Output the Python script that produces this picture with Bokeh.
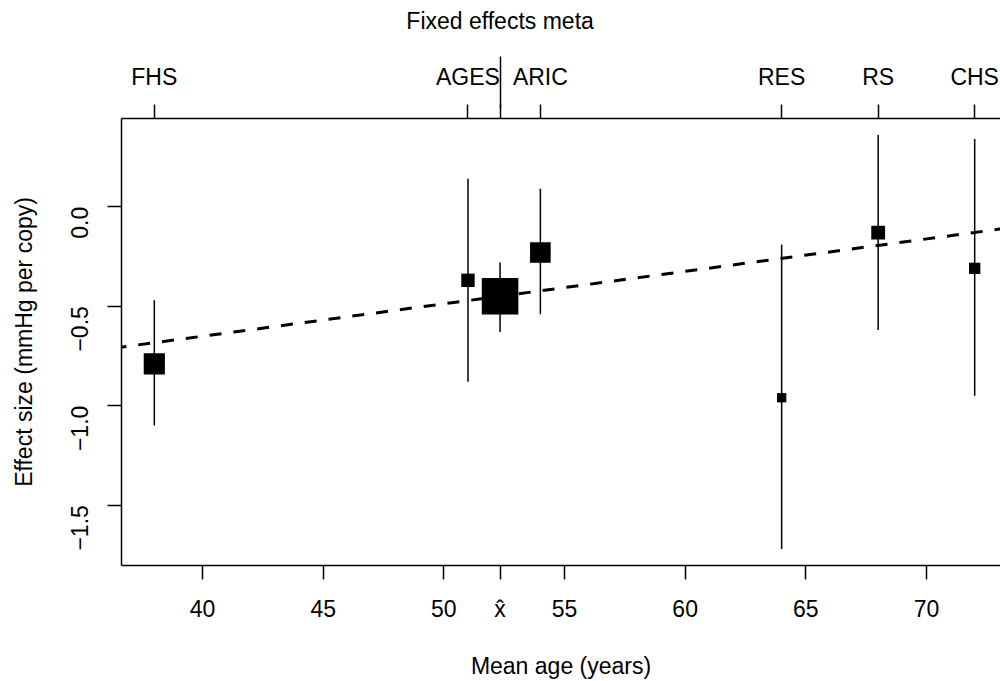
import math
from bokeh.plotting import figure
from bokeh.models import (Range1d, LinearAxis, FixedTicker, CustomJSTickFormatter,
                          Slope, ColumnDataSource)
from bokeh.embed import file_html
from bokeh.resources import INLINE

# ---------------- data ----------------
studies = ["FHS", "AGES", "ARIC", "RES", "RS", "CHS"]
mean_age = [38, 51, 54, 64, 68, 72]
effect = [-0.79, -0.37, -0.23, -0.96, -0.13, -0.31]
ci_low = [-1.10, -0.88, -0.54, -1.72, -0.62, -0.95]
ci_high = [-0.47, 0.14, 0.09, -0.19, 0.36, 0.34]
weight = [40, 16, 38, 7.7, 17, 11.4]

meta_label = "Fixed effects meta"
meta_age = 52.33
meta_effect = -0.45
meta_low = -0.63
meta_high = -0.28
meta_weight = 119

reg_intercept = -1.303
reg_slope = 0.0163

x_ticks = [40, 45, 50, 55, 60, 65, 70]
y_ticks = [0.0, -0.5, -1.0, -1.5]
meta_tick_label = "x\u0302"
x_title = "Mean age (years)"
y_title = "Effect size (mmHg per copy)"

# ---------------- styling ----------------
FONT = "Liberation Sans"
FS = "23px"
LW = 1.5

all_lo = min(ci_low + [meta_low])
all_hi = max(ci_high + [meta_high])
ypad = 0.04 * (all_hi - all_lo)
y_range = Range1d(all_lo - ypad, all_hi + ypad)
xspan = max(mean_age) - min(mean_age)
x_range = Range1d(min(mean_age) - 0.04 * xspan, 73.07)

p = figure(width=1000, height=681, x_range=x_range, y_range=y_range,
           output_backend="svg", toolbar_location=None,
           min_border_left=121, min_border_right=0,
           min_border_top=118, min_border_bottom=116)
p.outline_line_color = None
p.grid.grid_line_color = None
p.background_fill_color = "white"
p.border_fill_color = "white"


def style_axis(ax):
    ax.axis_line_color = "black"
    ax.axis_line_width = LW
    ax.major_tick_line_color = "black"
    ax.major_tick_line_width = LW
    ax.major_tick_out = 14
    ax.major_tick_in = 0
    ax.minor_tick_line_color = None
    ax.major_label_text_font = FONT
    ax.major_label_text_font_size = FS
    ax.major_label_text_color = "black"
    ax.axis_label_text_font = FONT
    ax.axis_label_text_font_size = FS
    ax.axis_label_text_font_style = "normal"
    ax.axis_label_text_color = "black"


# bottom axis
xa = p.xaxis[0]
style_axis(xa)
xa.ticker = FixedTicker(ticks=x_ticks + [meta_age])
xa.formatter = CustomJSTickFormatter(
    args=dict(meta=meta_age, hat=meta_tick_label),
    code="return Math.abs(tick - meta) < 1e-9 ? hat : tick.toFixed(0);")
xa.major_label_standoff = 16
xa.axis_label = x_title
xa.axis_label_standoff = 28

# left axis
ya = p.yaxis[0]
style_axis(ya)
ya.ticker = FixedTicker(ticks=y_ticks)
ya.formatter = CustomJSTickFormatter(code="return tick.toFixed(1).replace('-', '\u2212');")
ya.major_label_orientation = math.pi / 2
ya.major_label_standoff = 28
ya.axis_label = y_title
ya.axis_label_standoff = 23

# top axis with study names (inner)
top = LinearAxis(ticker=FixedTicker(ticks=mean_age + [meta_age]),
                 formatter=CustomJSTickFormatter(
                     args=dict(ages=mean_age, names=studies),
                     code="const i = ages.indexOf(tick); return i >= 0 ? names[i] : '';"))
style_axis(top)
top.major_label_standoff = 15
p.add_layout(top, "above")

# outer top axis: the long tick for the fixed effects meta-analysis
meta_ax = LinearAxis(ticker=FixedTicker(ticks=[meta_age]),
                     formatter=CustomJSTickFormatter(
                         args=dict(lab=meta_label), code="return lab;"))
style_axis(meta_ax)
meta_ax.axis_line_color = None
meta_ax.major_tick_out = 4
meta_ax.major_tick_in = 48
meta_ax.major_label_standoff = 23
p.add_layout(meta_ax, "above")

# ---------------- marks ----------------
src = ColumnDataSource(dict(
    x=mean_age + [meta_age],
    y=effect + [meta_effect],
    lo=ci_low + [meta_low],
    hi=ci_high + [meta_high],
    size=[3.35 * math.sqrt(w) for w in weight + [meta_weight]],
))
p.segment(x0="x", y0="lo", x1="x", y1="hi", source=src,
          line_color="black", line_width=LW)
p.add_layout(Slope(gradient=reg_slope, y_intercept=reg_intercept,
                   line_color="black", line_width=3, line_dash="12 12"))
p.scatter(x="x", y="y", size="size", marker="square", source=src,
          fill_color="black", line_color=None)

open("out.html", "w").write(file_html(p, INLINE))
